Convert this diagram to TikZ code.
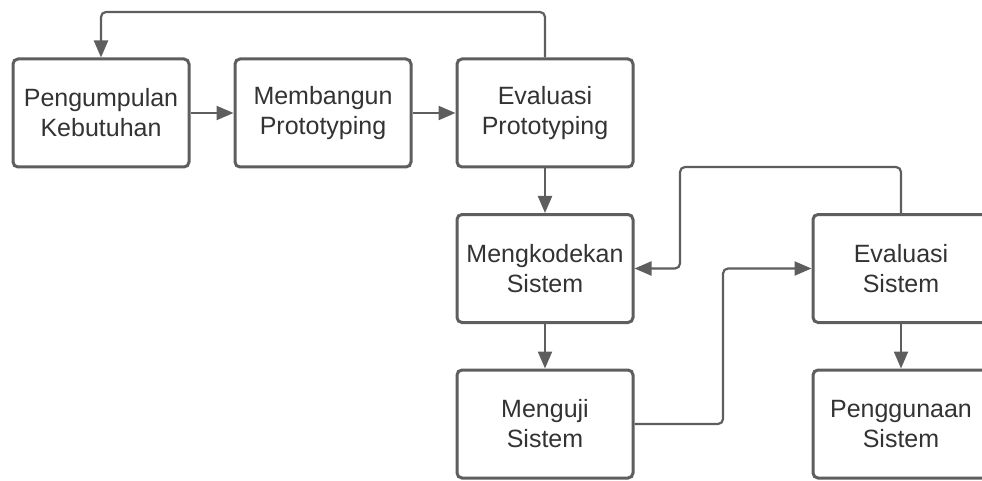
\documentclass[tikz,border=0pt]{standalone}
\usepackage{fontspec}
\setmainfont{Liberation Sans}
\usetikzlibrary{arrows.meta}
\definecolor{edge}{HTML}{5E5E5E}
\definecolor{ink}{HTML}{333333}
\tikzset{
  procbox/.style={draw=edge, line width=3pt, rounded corners=5pt, fill=white,
    minimum width=176pt, minimum height=108pt, align=center, text=ink,
    font=\fontsize{25}{30}\selectfont, inner sep=0pt},
  conn/.style={draw=edge, line width=2.2pt, rounded corners=5pt,
    -{Triangle[length=17pt,width=14pt]}},
  plain/.style={draw=edge, line width=2.2pt, rounded corners=5pt}
}
\begin{document}
\begin{tikzpicture}[x=1pt,y=-1pt]
\useasboundingbox (0,0) rectangle (982,481);
\clip (0,0) rectangle (982,481);
\node[procbox] (pk) at (101,113) {Pengumpulan\\Kebutuhan};
\node[procbox] (mp) at (323,113) {Membangun\\Prototyping};
\node[procbox] (ep) at (545,113) {Evaluasi\\Prototyping};
\node[procbox] (mk) at (545,268.5) {Mengkodekan\\Sistem};
\node[procbox] (mu) at (545,424) {Menguji\\Sistem};
\node[procbox] (es) at (901,268.5) {Evaluasi\\Sistem};
\node[procbox] (pg) at (901,424) {Penggunaan\\Sistem};
\coordinate (top) at (0,12);
\coordinate (r1) at (680,167);
\coordinate (r2) at (723,330);
\draw[conn] (pk) -- (mp);
\draw[conn] (mp) -- (ep);
\draw[conn] (ep) -- (mk);
\draw[conn] (mk) -- (mu);
\draw[conn] (es) -- (pg);
\draw[conn] (ep.north) -- (ep.north |- top) -| (pk.north);
\draw[conn] (es.north) |- (r1) |- (mk.east);
\draw[conn] (mu.east) -| (r2) |- (es.west);
\end{tikzpicture}
\end{document}
